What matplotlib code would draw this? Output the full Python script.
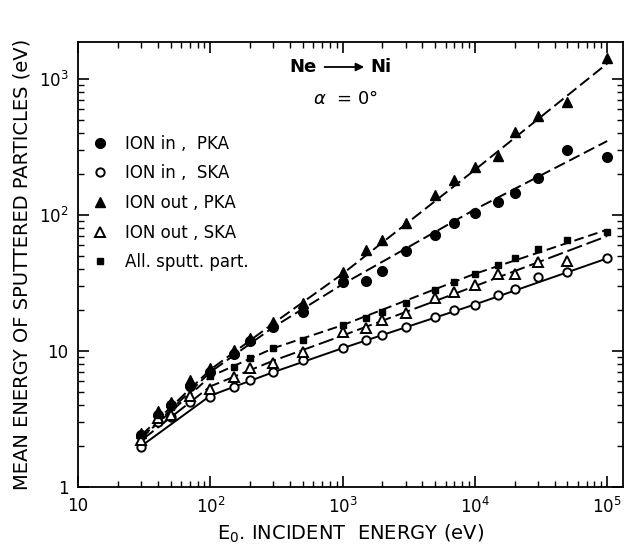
import matplotlib
matplotlib.use("Agg")
import matplotlib.pyplot as plt
from matplotlib.lines import Line2D

# incident energies (eV)
E = [30, 40, 50, 70, 100, 150, 200, 300, 500, 1000, 1500, 2000, 3000,
     5000, 7000, 10000, 15000, 20000, 30000, 50000, 100000]

# mean energies (eV)
ion_in_pka = [2.4, 3.4, 4.0, 5.5, 7.0, 9.5, 11.8, 15, 19.5, 32, 33, 38.5, 54,
              71, 87, 103, 125, 145, 187, 300, 268]
ion_in_ska = [1.97, 3.0, 3.3, 4.2, 4.6, 5.4, 6.1, 7.0, 8.6, 10.5, 12.0, 13.1, 15,
              17.8, 20, 21.8, 26, 28.5, 35, 38, 48]
ion_out_pka = [2.5, 3.6, 4.2, 6.1, 7.5, 10.2, 12.5, 16.3, 22.5, 38, 55, 66, 87,
               140, 181, 225, 271, 408, 534, 678, 1430]
E_out_ska = E[:-1]
ion_out_ska = [2.2, 3.2, 3.4, 4.7, 5.3, 6.4, 7.5, 8.2, 9.8, 13.8, 14.7, 16.9, 19,
               24.5, 27, 30.5, 37, 37, 45, 46]
all_sputt = [2.4, 3.4, 3.9, 5.4, 6.6, 7.6, 8.9, 10.5, 12, 15.5, 17.5, 19.3, 22.5,
             28, 32, 37, 43, 48, 56, 65, 75]

# hand-drawn guide curves (nodes)
fit_E = [30, 100, 300, 1000, 10000, 100000]
fit_in_pka = [2.3, 7.0, 15, 31, 110, 350]
fit_in_ska = [2.0, 4.7, 7.0, 10.5, 22, 48]
fit_out_pka = [2.4, 7.3, 16, 37, 215, 1300]
fit_out_ska = [2.2, 5.5, 8.5, 13, 30, 70]
fit_all = [2.3, 6.5, 10.5, 15.5, 37, 78]

fig = plt.figure(figsize=(6.25, 5.5), dpi=100)
ax = fig.add_axes([0.125, 0.1145, 0.872, 0.809])
ax.set_xscale("log")
ax.set_yscale("log")
ax.set_xlim(10, 1.32e5)
ax.set_ylim(1, 1870)

lw = 1.4
ax.plot(fit_E, fit_out_pka, color="k", lw=lw, ls=(0, (6, 2.5)))
ax.plot(fit_E, fit_in_pka, color="k", lw=lw, ls=(0, (6, 2.5)))
ax.plot(fit_E, fit_all, color="k", lw=lw, ls=(0, (5, 2.5)))
ax.plot(fit_E, fit_out_ska, color="k", lw=lw, ls=(0, (8, 2.5)))
ax.plot(fit_E, fit_in_ska, color="k", lw=lw, ls="-")

ax.plot(E, ion_in_pka, "o", color="k", ms=7, ls="none")
ax.plot(E, ion_in_ska, "o", mfc="white", mec="k", mew=1.4, ms=6, ls="none")
ax.plot(E, ion_out_pka, "^", color="k", ms=7.5, ls="none")
ax.plot(E_out_ska, ion_out_ska, "^", mfc="white", mec="k", mew=1.4, ms=7, ls="none")
ax.plot(E, all_sputt, "s", color="k", ms=5, ls="none")

handles = [
    Line2D([], [], marker="o", color="k", ms=7, ls="none"),
    Line2D([], [], marker="o", mfc="white", mec="k", mew=1.4, ms=6, ls="none"),
    Line2D([], [], marker="^", color="k", ms=7.5, ls="none"),
    Line2D([], [], marker="^", mfc="white", mec="k", mew=1.4, ms=7, ls="none"),
    Line2D([], [], marker="s", color="k", ms=5, ls="none"),
]
labels = ["ION in ,  PKA", "ION in ,  SKA", "ION out , PKA",
          "ION out , SKA", "All. sputt. part."]
ax.legend(handles, labels, loc="upper left", bbox_to_anchor=(0.0, 0.822),
          frameon=False, fontsize=12, handlelength=1.0, handletextpad=1.0,
          labelspacing=0.7, borderaxespad=0.4)

ax.text(0.413, 0.944, "Ne", transform=ax.transAxes, ha="center", va="center",
        fontsize=13, fontweight="bold")
ax.text(0.556, 0.944, "Ni", transform=ax.transAxes, ha="center", va="center",
        fontsize=13, fontweight="bold")
ax.annotate("", xy=(0.53, 0.944), xytext=(0.447, 0.944),
            xycoords="axes fraction",
            arrowprops=dict(arrowstyle="-|>", color="k", lw=1.3,
                            mutation_scale=12))
ax.text(0.49, 0.872, r"$\alpha$  = 0°", transform=ax.transAxes, ha="center",
        va="center", fontsize=13)

ax.set_xticks([10, 1e2, 1e3, 1e4, 1e5],
              ["10", "10$^2$", "10$^3$", "10$^4$", "10$^5$"])
ax.set_yticks([1, 10, 1e2, 1e3], ["1", "10", "10$^2$", "10$^3$"])
ax.tick_params(which="both", direction="in", top=True, right=True,
               labelsize=12, pad=7)
ax.tick_params(which="major", length=8, width=1.2)
ax.tick_params(which="minor", length=4, width=1.0)
for s in ax.spines.values():
    s.set_linewidth(1.3)

ax.set_xlabel("E$_0$. INCIDENT  ENERGY (eV)", fontsize=14, labelpad=4)
ax.set_ylabel("MEAN ENERGY OF SPUTTERED PARTICLES (eV)", fontsize=14,
              labelpad=5)

plt.savefig("out.png", dpi=100)
